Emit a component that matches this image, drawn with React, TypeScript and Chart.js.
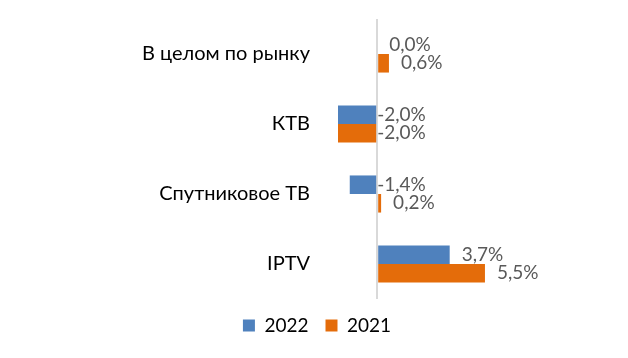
import React, { useEffect, useRef } from "react";
import { Chart, registerables } from "chart.js";

Chart.register(...registerables);

const categories = ["В целом по рынку", "КТВ", "Спутниковое ТВ", "IPTV"];
const seriesNames = ["2022", "2021"];
const values2022 = [0.0, -2.0, -1.4, 3.7];
const values2021 = [0.6, -2.0, 0.2, 5.5];
const colors = ["#4F81BD", "#E46C0A"];

const fmt = (v: number) => v.toFixed(1).replace(".", ",") + "%";

const labelPlugin = {
  id: "valueLabels",
  afterDatasetsDraw(chart: any) {
    const ctx = chart.ctx;
    const xScale = chart.scales.x;
    const zero = xScale.getPixelForValue(0);
    ctx.save();
    ctx.font = "19px Lato";
    ctx.fillStyle = "#595959";
    ctx.textAlign = "left";
    ctx.textBaseline = "middle";
    chart.data.datasets.forEach((ds: any, di: number) => {
      const meta = chart.getDatasetMeta(di);
      meta.data.forEach((bar: any, i: number) => {
        const v = ds.data[i];
        const x = v >= 0 ? bar.x + 12 : zero;
        ctx.fillText(fmt(v), x, bar.y);
      });
    });
    ctx.restore();
  },
};

export default function App() {
  const ref = useRef<HTMLCanvasElement>(null);
  useEffect(() => {
    const chart = new Chart(ref.current!, {
      type: "bar",
      data: {
        labels: categories,
        datasets: [
          { label: seriesNames[0], data: values2022, backgroundColor: colors[0] },
          { label: seriesNames[1], data: values2021, backgroundColor: colors[1] },
        ],
      },
      options: {
        indexAxis: "y",
        animation: false,
        responsive: false,
        layout: { padding: { top: 19, right: 0, bottom: 13, left: 6 } },
        datasets: { bar: { categoryPercentage: 0.53, barPercentage: 1 } },
        scales: {
          x: {
            min: -2,
            max: 12.8,
            ticks: { display: false, stepSize: 1 },
            border: { display: false },
            grid: {
              drawTicks: false,
              lineWidth: 2,
              color: (c: any) => (c.tick && c.tick.value === 0 ? "#D9D9D9" : "rgba(0,0,0,0)"),
            },
          },
          y: {
            border: { display: false },
            grid: { display: false, drawTicks: false },
            ticks: { padding: 28, color: "#000000", font: { family: "Lato", size: 20 } },
            afterFit: (s: any) => {
              s.width = 332;
              s.paddingTop = 0;
              s.paddingBottom = 0;
            },
          },
        },
        plugins: {
          tooltip: { enabled: false },
          legend: {
            position: "bottom",
            labels: {
              boxWidth: 12,
              boxHeight: 12,
              padding: 17,
              color: "#000000",
              font: { family: "Lato", size: 19 },
            },
          },
        },
      },
      plugins: [labelPlugin],
    });
    return () => chart.destroy();
  }, []);
  return (
    <div style={{ position: "fixed", left: 0, top: 0, width: 628, height: 358, background: "#fff" }}>
      <canvas ref={ref} width={628} height={358} />
    </div>
  );
}
